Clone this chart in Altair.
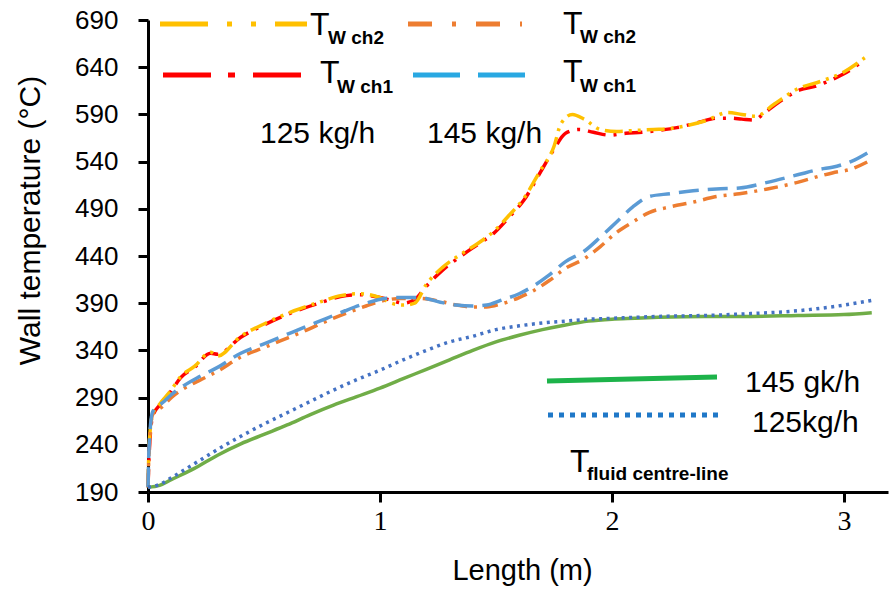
import altair as alt
import pandas as pd

# ---------------- data ----------------
# 125 kg/h, wall channel 1 (red, dash-dot)
red_x = [0, 0.005, 0.02, 0.05, 0.1, 0.14, 0.2, 0.27, 0.3, 0.4, 0.5, 0.63, 0.75, 0.83, 0.91, 1.0,
         1.05, 1.1, 1.15, 1.2, 1.27, 1.35, 1.42, 1.49, 1.56, 1.62, 1.69, 1.75, 1.8, 1.86, 1.92,
         1.99, 2.06, 2.13, 2.2, 2.28, 2.38, 2.45, 2.51, 2.56, 2.61, 2.66, 2.72, 2.81, 2.88, 2.94,
         3.0, 3.09]
red_y = [195, 230, 270, 282, 297, 311, 322, 337, 336, 354, 367, 381, 391, 397, 399, 396,
         393, 390, 394, 408, 425, 440, 452, 464, 482, 499, 528, 553, 570, 574, 571,
         568, 570, 571, 573, 576, 582, 586, 586, 585, 584, 592, 603, 616, 620, 626,
         633, 648]
# 125 kg/h, wall channel 2 (gold, dash-dot-dot)
gold_x = [0, 0.005, 0.02, 0.05, 0.1, 0.14, 0.2, 0.27, 0.3, 0.4, 0.5, 0.63, 0.75, 0.83, 0.91, 1.0,
          1.05, 1.1, 1.15, 1.2, 1.27, 1.35, 1.42, 1.49, 1.56, 1.62, 1.69, 1.75, 1.78, 1.83, 1.88,
          1.95, 2.02, 2.1, 2.18, 2.25, 2.32, 2.4, 2.5, 2.56, 2.62, 2.7, 2.8, 2.9, 3.0, 3.09]
gold_y = [195, 240, 272, 283, 298, 312, 323, 338, 334, 355, 368, 382, 392, 398, 400, 396,
          390, 388, 390, 410, 428, 442, 453, 466, 484, 501, 530, 556, 580, 590, 585,
          574, 572, 573, 574, 575, 578, 583, 592, 590, 588, 601, 617, 625, 635, 650]
# 145 kg/h, wall channel 1 (blue, dashed)
blue_x = [0, 0.005, 0.02, 0.065, 0.1, 0.15, 0.22, 0.3, 0.4, 0.5, 0.57, 0.67, 0.77, 0.85, 0.94,
          1.02, 1.09, 1.17, 1.26, 1.33, 1.4, 1.46, 1.52, 1.6, 1.66, 1.73, 1.8, 1.88, 1.95, 2.02,
          2.09, 2.16, 2.25, 2.35, 2.45, 2.55, 2.67, 2.8, 2.9, 2.95, 3.03, 3.12]
blue_y = [195, 240, 275, 285, 293, 302, 312, 322, 337, 347, 354, 364, 374, 382, 390,
          395, 396, 396, 391, 388, 387, 388, 393, 400, 408, 420, 434, 445, 460, 476,
          492, 503, 506, 509, 511, 512, 518, 526, 532, 534, 540, 552]
# 145 kg/h, wall channel 2 (orange, dash-dot)
orange_x = blue_x
orange_y = [195, 235, 272, 281, 290, 299, 308, 318, 333, 343, 350, 360, 371, 379, 387,
            393, 395, 395, 392, 388, 386, 386, 389, 396, 403, 414, 427, 437, 450, 465,
            476, 486, 492, 497, 503, 506, 511, 518, 525, 528, 532, 542]
# fluid centre-line temperatures
fluid_x = [0, 0.05, 0.1, 0.2, 0.3, 0.4, 0.5, 0.6, 0.7, 0.8, 0.9, 1.0, 1.1, 1.2, 1.3, 1.4, 1.5,
           1.6, 1.7, 1.8, 1.9, 2.0, 2.1, 2.2, 2.4, 2.6, 2.8, 3.0, 3.12]
fluid145_y = [195, 197, 203, 215, 229, 241, 251, 261, 272, 282, 291, 300, 310, 320, 330, 340,
              349, 356, 362, 367, 371, 373, 374, 375, 376, 376, 377, 378, 380]
fluid125_y = [195, 198, 205, 220, 235, 249, 262, 274, 286, 298, 309, 319, 330, 340, 349, 355,
              362, 366, 369, 371, 373, 374, 375, 376, 377, 379, 382, 388, 393]

x_ticks = [0, 1, 2, 3]
y_ticks = [190, 240, 290, 340, 390, 440, 490, 540, 590, 640, 690]

SANS = "Liberation Sans"

# ---------------- chart ----------------
xscale = alt.Scale(domain=[0, 3.19], nice=False, zero=False)
yscale = alt.Scale(domain=[190, 690], nice=False, zero=False)

xaxis = alt.Axis(values=x_ticks, title="Length (m)", grid=False,
                 labelFont="Liberation Serif", labelFontSize=28, labelColor="black",
                 labelPadding=5, labelFlush=False,
                 titleFont=SANS, titleFontSize=29, titleFontWeight="normal",
                 titleColor="black", titleX=374, titleY=78, titleBaseline="middle",
                 titleAlign="center",
                 domainColor="black", domainWidth=3, tickColor="black", tickWidth=3,
                 tickSize=10)
yaxis = alt.Axis(values=y_ticks, title="Wall temperature (°C)", grid=False,
                 labelFont=SANS, labelFontSize=26, labelColor="black",
                 labelPadding=20, labelFlush=False,
                 titleFont=SANS, titleFontSize=30, titleFontWeight="normal",
                 titleColor="black", titleAngle=-90, titleX=-118, titleY=200,
                 titleBaseline="middle", titleAlign="center",
                 domainColor="black", domainWidth=3, tickColor="black", tickWidth=3,
                 tickSize=10)


def series(xs, ys, color, dash=None, width=3.5):
    kw = dict(color=color, strokeWidth=width, strokeCap="butt", interpolate="monotone")
    if dash:
        kw["strokeDash"] = dash
    return alt.Chart(pd.DataFrame({"x": xs, "y": ys})).mark_line(**kw).encode(
        x=alt.X("x:Q", scale=xscale, axis=xaxis),
        y=alt.Y("y:Q", scale=yscale, axis=yaxis),
    )


one = pd.DataFrame({"a": [0]})


def seg(x1, x2, y1, y2, color, dash=None, width=5):
    kw = dict(color=color, strokeWidth=width, strokeCap="butt")
    if dash:
        kw["strokeDash"] = dash
    return alt.Chart(one).mark_rule(**kw).encode(
        x=alt.value(x1), x2=alt.value(x2), y=alt.value(y1), y2=alt.value(y2))


def txt(s, x, y, size, weight="normal"):
    return alt.Chart(one).mark_text(text=s, font=SANS, fontSize=size,
                                    fontWeight=weight, color="black", align="left",
                                    baseline="alphabetic").encode(
        x=alt.value(x), y=alt.value(y))


layers = [
    series(red_x, red_y, "#FF0000", [18, 8, 3, 8]),
    series(gold_x, gold_y, "#FFC000", [18, 6, 3, 6, 3, 6]),
    series(orange_x, orange_y, "#ED7D31", [14, 7, 3, 7]),
    series(blue_x, blue_y, "#5B9BD5", [20, 9]),
    series(fluid_x, fluid145_y, "#70AD47", None, 3.5),
    series(fluid_x, fluid125_y, "#4472C4", [3, 4.5], 3.5),
    # legend samples
    seg(12, 159, 4, 4, "#FFC000", [48, 19, 5, 19, 5, 19]),
    seg(260, 374, 4, 4, "#ED7D31", [24, 20, 4, 20]),
    seg(15, 154, 55, 55, "#FF0000", [48, 17, 7, 18]),
    seg(265, 379, 55, 55, "#29A8E2", [47, 18]),
    seg(399, 569, 361, 357, "#1DB34A", None, 5),
    seg(400, 570, 395, 395, "#1F78C8", [5, 6], 5),
    # legend texts
    txt("T", 162, 15, 32), txt("W ch2", 180, 24, 19, "bold"),
    txt("T", 415, 14, 32), txt("W ch2", 432, 23, 19, "bold"),
    txt("T", 172, 63, 32), txt("W ch1", 189, 73, 19, "bold"),
    txt("T", 415, 62, 32), txt("W ch1", 432, 72, 19, "bold"),
    txt("125 kg/h", 112, 123, 30), txt("145 kg/h", 279, 123, 30),
    txt("145 gk/h", 597, 372, 30), txt("125kg/h", 604, 412, 30),
    txt("T", 422, 452, 32), txt("fluid centre-line", 439, 460, 19, "bold"),
]

chart = alt.layer(*layers).properties(
    width=740, height=472,
    padding={"left": 148, "top": 20, "right": 2, "bottom": 97},
    autosize=alt.AutoSizeParams(type="none"),
    background="white",
).configure_view(stroke=None)

chart.save("out.html", embed_options={"renderer": "svg", "actions": False})
